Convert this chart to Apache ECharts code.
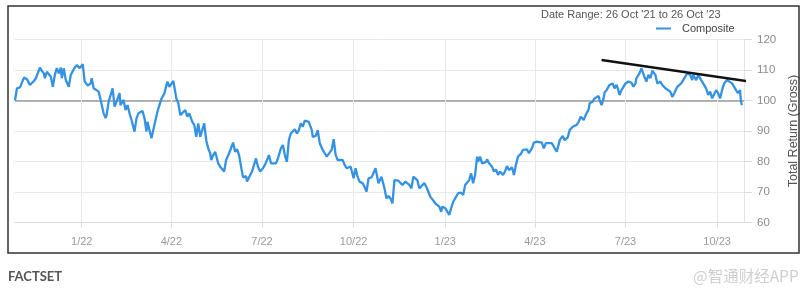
<!DOCTYPE html>
<html>
<head>
<meta charset="utf-8">
<script src="https://cdn.jsdelivr.net/npm/echarts@6/dist/echarts.min.js"></script>
<style>
html,body{margin:0;padding:0;background:#fff;}
#c{width:811px;height:289px;}
</style>
</head>
<body>
<div id="c"></div>
<script>
// Day offsets from the start date (26 Oct 2021) and index values
const startDate = [2021, 9, 26];
const days = [0,2,5,9,12,15,19,21,25,27,29,30,32,34,36,38,40,42,44,46,47,49,51,54,56,60,62,65,66,68,70,73,76,77,79,81,84,86,89,91,92,94,98,100,102,105,106,109,111,113,115,117,120,122,124,126,128,130,132,133,135,137,140,143,145,147,150,153,155,157,159,162,164,166,168,171,173,175,178,180,182,184,186,187,190,192,194,196,197,199,201,202,204,206,208,210,212,215,217,219,221,223,225,227,229,232,233,235,238,240,242,244,246,249,251,253,255,257,259,262,264,267,269,271,273,275,277,279,281,283,285,287,289,291,293,295,298,299,302,304,306,309,311,313,315,318,320,322,324,326,329,331,333,335,337,340,342,344,346,349,351,353,355,358,360,362,365,368,371,373,375,377,379,381,383,385,387,389,392,394,396,398,400,402,404,406,408,411,413,415,417,419,422,424,426,428,429,432,433,436,438,440,443,445,448,450,452,454,456,458,460,462,464,465,467,469,470,473,474,476,479,481,483,485,487,490,492,494,496,499,501,503,505,508,510,512,514,516,519,521,524,526,529,531,533,535,539,541,544,547,550,552,555,557,560,562,564,566,568,571,573,576,577,580,582,584,586,587,589,591,592,594,597,599,600,602,604,605,607,609,611,613,616,619,621,623,624,627,629,630,632,634,636,638,640,643,645,648,650,653,655,658,660,662,665,667,669,671,673,675,678,680,681,684,686,689,691,694,696,698,700,702,704,706,708,710,712,715,717,720,722,724,726,728,729,730];
const values = [100.0,104.0,104.3,107.5,107.0,105.1,106.4,107.3,110.8,109.7,108.9,107.3,109.4,108.6,107.8,104.5,108.4,110.6,108.9,110.8,107.3,110.6,106.7,104.5,108.4,110.8,111.6,110.6,110.0,111.9,106.2,104.9,105.6,107.3,104.0,104.5,102.9,100.2,95.8,94.2,95.2,99.6,104.0,98.0,99.6,102.4,98.5,100.2,96.9,98.5,95.8,93.6,89.8,94.2,95.8,95.2,96.6,94.2,89.8,93.0,92.5,87.6,92.0,96.3,98.5,100.5,102.4,106.2,104.5,104.0,106.4,100.7,99.1,95.2,94.7,96.9,94.7,95.8,93.0,92.0,88.1,92.5,88.1,89.2,92.5,87.0,84.3,82.7,80.5,82.1,83.2,83.8,79.4,78.3,77.8,76.7,80.5,82.7,83.2,86.2,83.2,84.0,82.1,78.3,74.8,75.2,73.4,74.8,76.7,78.9,81.0,78.3,76.7,77.8,78.9,80.5,82.1,79.4,78.9,79.4,81.0,84.3,85.4,82.1,79.9,87.0,89.2,88.7,90.6,89.2,90.3,92.5,91.4,93.4,93.6,93.0,90.3,88.1,88.4,90.3,86.0,83.8,82.7,81.6,82.1,83.8,87.3,82.1,80.5,81.0,80.5,78.9,77.8,77.2,78.3,74.5,77.8,75.0,73.4,72.9,71.7,70.1,74.5,74.8,74.5,77.8,72.9,75.0,71.2,67.9,68.7,67.9,66.3,73.9,74.5,73.7,73.9,72.3,73.4,73.9,72.3,71.2,75.0,75.0,73.9,71.2,71.7,72.9,71.7,70.1,68.5,67.9,66.3,66.8,65.2,63.5,65.2,64.7,64.1,62.5,64.7,66.8,68.5,69.6,69.8,69.0,72.3,72.9,73.9,76.1,72.9,75.6,81.6,79.9,81.6,79.4,78.9,79.9,80.7,79.4,78.3,76.7,77.4,75.6,76.7,75.6,76.7,78.5,77.2,78.1,75.6,78.9,81.6,82.5,83.8,83.2,84.0,82.7,84.3,86.2,86.5,86.2,86.2,84.3,86.0,86.2,86.0,85.4,83.2,87.0,88.4,87.0,87.9,90.3,91.4,90.9,92.0,93.0,94.7,93.6,95.2,97.1,99.1,99.6,100.7,101.2,101.5,100.2,98.5,100.7,102.6,103.4,105.1,104.5,105.6,104.0,105.1,104.3,101.8,103.4,104.0,105.6,106.2,105.8,104.5,105.6,107.3,108.9,110.5,111.1,107.8,106.2,108.4,107.3,109.8,108.4,105.6,106.2,105.1,104.0,104.5,102.9,101.2,102.4,104.5,105.1,105.6,105.1,107.8,108.9,108.4,106.7,108.4,106.7,108.4,106.7,105.6,104.0,101.8,102.9,100.7,101.2,103.4,102.4,100.7,103.4,105.6,106.7,106.2,105.6,106.2,103.4,102.4,103.4,99.6,98.5];
// Resistance (trend) line drawn on the chart: two end points
const trendDays = [589, 738];
const trendValues = [113.3, 106.2];
// Quarter tick dates on the x axis
const quarterTicks = ['2022-01-01','2022-04-01','2022-07-01','2022-10-01','2023-01-01','2023-04-01','2023-07-01','2023-10-01'];
const axisEndDay = 732;
const yTicks = [60, 70, 80, 90, 100, 110, 120];

const DAY = 86400000;
const t0 = Date.UTC(startDate[0], startDate[1], startDate[2]);
function tickToDay(s) { const p = s.split('-').map(Number); return Math.round((Date.UTC(p[0], p[1]-1, p[2]) - t0) / DAY); }
function dayLabel(d) { const dt = new Date(t0 + d * DAY); return (dt.getUTCMonth()+1) + '/' + String(dt.getUTCFullYear()).slice(2); }

const seriesData = days.map((d, i) => [d, values[i]]);
const trendData = trendDays.map((d, i) => [d, trendValues[i]]);
const tickDays = quarterTicks.map(tickToDay);

const FONT = '"Liberation Sans", Arial, sans-serif';
const chart = echarts.init(document.getElementById('c'), null, {renderer: 'canvas'});
chart.setOption({
  animation: false,
  backgroundColor: '#fff',
  textStyle: {fontFamily: FONT},
  grid: {left: 15, right: 67, top: 39.5, bottom: 66.5, containLabel: false},
  legend: {
    data: ['Composite'], left: 651, top: 18, icon: 'rect', itemWidth: 15, itemHeight: 2,
    itemGap: 5, textStyle: {fontSize: 11, color: '#444', fontFamily: FONT, padding: [0,0,0,6]},
    selectedMode: false
  },
  xAxis: {
    type: 'value',
    min: 0, max: axisEndDay,
    axisLine: {show: true, onZero: false, lineStyle: {color: '#dcdcdc', width: 1}},
    axisTick: {show: true, length: 5, lineStyle: {color: '#dcdcdc'}, customValues: tickDays},
    axisLabel: {
      customValues: tickDays, color: '#9a9a9a', fontSize: 11, margin: 14, fontFamily: FONT,
      formatter: function (v) { return dayLabel(v); }
    },
    splitLine: {show: false}
  },
  yAxis: {
    type: 'value', position: 'right', min: 60, max: 120, interval: 10,
    name: 'Total Return (Gross)', nameLocation: 'middle', nameRotate: 90, nameGap: 37,
    nameTextStyle: {fontSize: 12.5, color: '#555', fontFamily: FONT},
    axisLine: {show: true, onZero: false, lineStyle: {color: '#e3e3e3'}},
    axisTick: {show: true, length: 8, lineStyle: {color: '#dcdcdc'}},
    axisLabel: {color: '#8a8a8a', fontSize: 11.5, margin: 13, fontFamily: FONT,
      formatter: function (v) { return yTicks.indexOf(v) >= 0 ? String(v) : ''; }},
    splitLine: {show: true, lineStyle: {color: '#e8e8e8', width: 1}}
  },
  series: [
    {
      name: 'Composite', type: 'line', data: seriesData, showSymbol: false, symbol: 'none',
      lineStyle: {color: '#3592e2', width: 2.3}, itemStyle: {color: '#3592e2'},
      z: 3,
      markLine: {
        silent: true, symbol: 'none', label: {show: false}, animation: false,
        data: [{yAxis: 100, lineStyle: {color: '#9a9a9a', width: 1.6, type: 'solid'}}]
          .concat(tickDays.map(d => ({xAxis: d, lineStyle: {color: '#e8e8e8', width: 1, type: 'solid'}}))),
        z: 1
      }
    },
    {
      name: 'Trend', type: 'line', data: trendData, showSymbol: false, symbol: 'none', clip: false,
      lineStyle: {color: '#111', width: 2.6}, z: 4
    }
  ],
  graphic: [
    {type: 'rect', shape: {x: 8, y: 6, width: 791, height: 247}, style: {fill: 'none', stroke: '#333', lineWidth: 1.5}, z: 100, silent: true},
    {type: 'text', x: 541, y: 9, style: {text: "Date Range: 26 Oct '21 to 26 Oct '23", font: '11px ' + FONT, fill: '#555'}, z: 100},
    {type: 'text', x: 8, y: 270, style: {text: 'FACTSET', font: 'bold 13px Lato, "Open Sans", sans-serif', fill: '#555'}, z: 100},
    {type: 'text', x: 693, y: 268, style: {text: '@智通财经APP', font: '15.5px "Noto Sans CJK SC", sans-serif', fill: '#cfcfcf'}, z: 100}
  ]
});
</script>
</body>
</html>
